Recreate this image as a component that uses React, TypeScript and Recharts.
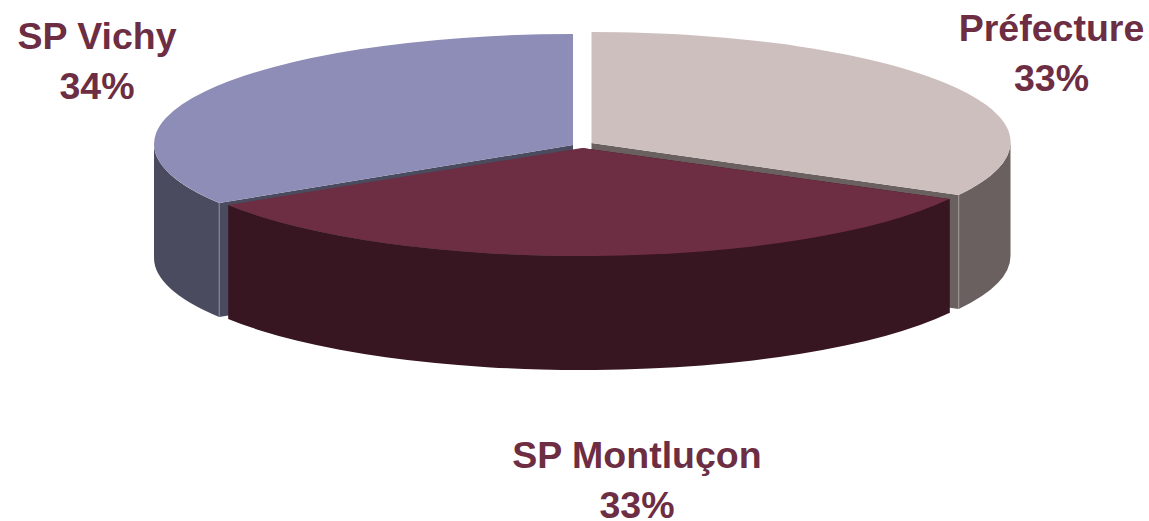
import { Pie, PieChart } from 'recharts'

// Slices listed back to front, so that SP Montluçon is painted last
const sites = ['SP Vichy', 'Préfecture', 'SP Montluçon']
const shares = [34, 33, 33]
const rows = sites.map((name, i) => ({ name, value: shares[i] }))

const topColors: Record<string, string> = { 'SP Vichy': '#8E8DB7', 'Préfecture': '#CDBFBE', 'SP Montluçon': '#6D2D42' }
const sideColors: Record<string, string> = { 'SP Vichy': '#4A4B5F', 'Préfecture': '#6A6060', 'SP Montluçon': '#371622' }
const edgeColors: Record<string, string> = { 'SP Vichy': '#8C8DA0', 'Préfecture': '#A09898', 'SP Montluçon': '#371622' }
// rim centre offset from the pie centre, and how far below it the apex sits (slight perspective)
const explode: Record<string, [number, number, number]> = {
  'SP Vichy': [-9, -2, 1],
  'Préfecture': [9.5, -4, 1],
  'SP Montluçon': [0, 0, 2],
}
const labelAt: Record<string, [number, number]> = { 'SP Vichy': [97, 49], 'Préfecture': [1051.5, 41], 'SP Montluçon': [637, 468] }

const FLATTEN = 0.2625
const DEPTH = 114
const RAD = Math.PI / 180

function Slice(props: any) {
  const { cx, cy, outerRadius, startAngle, endAngle, name } = props
  const [dx, dy, apexDrop] = explode[name]
  const ox = cx + dx
  const oy = cy + dy
  const rx = outerRadius
  const ry = outerRadius * FLATTEN
  const at = (deg: number, down = 0) =>
    `${(ox + rx * Math.cos(deg * RAD)).toFixed(1)} ${(oy - ry * Math.sin(deg * RAD) + down).toFixed(1)}`
  const large = Math.abs(endAngle - startAngle) > 180 ? 1 : 0

  // part of the rim facing the viewer (angles between -180 and 0 after wrapping)
  const wallFrom = name === 'Préfecture' ? 0 : startAngle
  const wallTo = name === 'SP Vichy' ? -180 : endAngle
  const wall = `M ${at(wallFrom)} A ${rx} ${ry} 0 0 1 ${at(wallTo)} L ${at(wallTo, DEPTH)} A ${rx} ${ry} 0 0 0 ${at(wallFrom, DEPTH)} Z`

  // radial cut face left visible by the explosion
  const cutAngle = name === 'Préfecture' ? endAngle : startAngle
  const apex = `${ox} ${oy + apexDrop}`
  const apexLow = `${ox} ${oy + apexDrop + DEPTH}`
  const cut = `M ${apex} L ${at(cutAngle)} L ${at(cutAngle, DEPTH)} L ${apexLow} Z`
  const top = `M ${apex} L ${at(startAngle)} A ${rx} ${ry} 0 ${large} 1 ${at(endAngle)} Z`

  return (
    <g>
      <path d={cut} fill={sideColors[name]} />
      <path d={wall} fill={sideColors[name]} />
      <path d={`M ${at(cutAngle)} L ${at(cutAngle, DEPTH)}`} stroke={edgeColors[name]} strokeWidth={1} />
      <path d={top} fill={topColors[name]} />
    </g>
  )
}

function SliceLabel(props: any) {
  const { name, percent } = props
  const [x, y] = labelAt[name]
  return (
    <text fill="#6D2D42" fontFamily="'Liberation Sans', Arial, sans-serif" fontSize={37.5} fontWeight={700} textAnchor="middle" x={x} y={y}>
      <tspan x={x}>{name}</tspan>
      <tspan dy={50} x={x}>{`${Math.round(percent * 100)}%`}</tspan>
    </text>
  )
}

export default function App() {
  return (
    <div style={{ left: 0, position: 'absolute', top: 0 }}>
      <PieChart height={521} margin={{ bottom: 0, left: 0, right: 0, top: 0 }} width={1149}>
        <Pie
          cx={582}
          cy={146}
          data={rows}
          dataKey="value"
          endAngle={-147.6}
          innerRadius={0}
          isAnimationActive={false}
          label={SliceLabel}
          labelLine={false}
          nameKey="name"
          outerRadius={419}
          shape={Slice}
          startAngle={212.4}
          stroke="none"
        />
      </PieChart>
    </div>
  )
}
